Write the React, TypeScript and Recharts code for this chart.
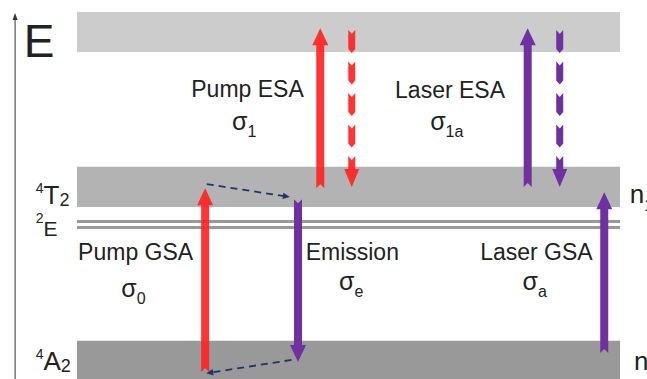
import React from 'react';
import {
  ComposedChart,
  XAxis,
  YAxis,
  ReferenceArea,
  ReferenceLine,
  ReferenceDot,
} from 'recharts';

const COLORS = {
  pump: '#ff2424',
  laser: '#7030a0',
  relax: '#1f3468',
  ink: '#222222',
  doublet: '#999999',
  bands: ['#cccccc', '#b3b3b3', '#999999'],
};
const FONT = '"Liberation Sans", Arial, sans-serif';

// Energy levels, arbitrary units (0 = bottom of the ground band)
const bandNames = ['excited', '4T2', '4A2'];
const bandLow = [89.1, 46.9, 0];
const bandHigh = [100, 57.8, 10.4];
const doubletLevels = [42.9, 41.3]; // 2E, drawn as two thin lines

// Optical transitions: horizontal slot (0..100) and start/end energies
const transitionNames = ['Pump GSA', 'Pump ESA', 'Pump ESA relax', 'Emission', 'Laser ESA', 'Laser ESA relax', 'Laser GSA'];
const transitionBeam = ['pump', 'pump', 'pump', 'laser', 'laser', 'laser', 'laser'];
const transitionKind = ['absorb', 'absorb', 'relax', 'emit', 'absorb', 'relax', 'absorb'];
const transitionX = [23.6, 44.8, 50.6, 40.7, 83.0, 88.9, 97.1];
const transitionFrom = [1.9, 52.0, 95.1, 49.0, 52.3, 95.1, 7.1];
const transitionTo = [52.0, 95.6, 52.3, 4.6, 95.6, 52.3, 50.9];

// Non-radiative relaxation inside the bands
const relaxFromX = [23.9, 39.5];
const relaxFromE = [53.1, 5.2];
const relaxToX = [39.2, 23.8];
const relaxToE = [49.6, 1.55];

// Captions for each process
const captionText = ['Pump ESA', 'Laser ESA', 'Pump GSA', 'Emission', 'Laser GSA'];
const captionX = [31.4, 68.7, 10.8, 50.7, 84.6];
const captionE = [76.8, 76.6, 32.4, 32.4, 32.4];
const sigmaSub = ['1', '1a', '0', 'e', 'a'];
const sigmaX = [30.8, 68.1, 10.4, 50.5, 84.3];
const sigmaE = [67.8, 67.8, 22.3, 24.3, 24.3];

// Term symbols on the left, populations on the right
const termSup = ['4', '2', '4'];
const termMain = ['T', 'E', 'A'];
const termSub = ['2', '', '2'];
const termE = [47.8, 39.0, 2.4];
const popSub = ['1', '0'];
const popX = [101.8, 102.6];
const popE = [47.9, 2.4];

type Pt = [number, number];

function frame(x1: number, y1: number, x2: number, y2: number) {
  const len = Math.hypot(x2 - x1, y2 - y1);
  const ux = (x2 - x1) / len;
  const uy = (y2 - y1) / len;
  const p = (a: number, c: number): Pt => [x1 + ux * a - uy * c, y1 + uy * a + ux * c];
  return { len, p };
}

const poly = (pts: Pt[]) => pts.map((q) => q.join(',')).join(' ');

function BeamArrow(props: any) {
  const { x1, y1, x2, y2, beam, kind } = props;
  if ([x1, y1, x2, y2].some((v) => v == null || isNaN(v))) return null;
  const { len, p } = frame(x1, y1, x2, y2);
  const color = COLORS[beam as 'pump' | 'laser'];
  const op = beam === 'pump' ? 0.92 : 1;
  if (kind === 'relax') {
    const sh = 3.5;
    const hh = 7.5;
    const hl = 18;
    const notch = 4;
    const segs: React.ReactNode[] = [];
    for (let s = 0; s < len - hl; s += 31.5) {
      const e = Math.min(s + 23, len - hl + 1);
      const tip = e >= len - hl ? 0 : 4;
      segs.push(
        <polygon
          key={s}
          points={poly([p(s, -sh), p(s + notch, 0), p(s, sh), p(e - tip, sh), p(e, 0), p(e - tip, -sh)])}
          fill={color}
          fillOpacity={op}
        />,
      );
    }
    return (
      <g>
        {segs}
        <polygon points={poly([p(len, 0), p(len - hl, hh), p(len - hl, -hh)])} fill={color} fillOpacity={op} />
      </g>
    );
  }
  const sh = 4;
  const hh = 8;
  const hl = 17;
  const notch = 4;
  return (
    <polygon
      points={poly([
        p(len, 0),
        p(len - hl, hh),
        p(len - hl, sh),
        p(0, sh),
        p(notch, 0),
        p(0, -sh),
        p(len - hl, -sh),
        p(len - hl, -hh),
      ])}
      fill={color}
      fillOpacity={op}
    />
  );
}

function RelaxArrow(props: any) {
  const { x1, y1, x2, y2 } = props;
  if ([x1, y1, x2, y2].some((v) => v == null || isNaN(v))) return null;
  const { len, p } = frame(x1, y1, x2, y2);
  const [ex, ey] = p(len - 6, 0);
  return (
    <g>
      <line x1={x1} y1={y1} x2={ex} y2={ey} stroke={COLORS.relax} strokeWidth={1.8} strokeDasharray="7 5" />
      <polygon points={poly([p(len, 0), p(len - 7, 3.2), p(len - 7, -3.2)])} fill={COLORS.relax} />
    </g>
  );
}

function EnergyAxis(props: any) {
  const { x1, y1, x2, y2 } = props;
  return (
    <g>
      <line x1={x1} y1={y1} x2={x2} y2={y2 + 4} stroke="#333" strokeWidth={1} />
      <polygon points={poly([[x2, y2], [x2 + 2.5, y2 + 7], [x2 - 2.5, y2 + 7]])} fill="#333" />
    </g>
  );
}

export default function App() {
  return (
    <div style={{ width: 647, height: 379, background: '#fff' }}>
      <style>{'body{margin:0}'}</style>
      <ComposedChart width={647} height={379} margin={{ top: 12, right: 27, bottom: 0, left: 77 }}>
        <XAxis type="number" dataKey="x" domain={[0, 100]} hide allowDataOverflow />
        <YAxis type="number" dataKey="e" domain={[0, 100]} hide allowDataOverflow />

        {bandNames.map((name, i) => (
          <ReferenceArea
            key={name}
            x1={0}
            x2={100}
            y1={bandLow[i]}
            y2={bandHigh[i]}
            fill={COLORS.bands[i]}
            fillOpacity={1}
            stroke="none"
          />
        ))}
        {doubletLevels.map((e) => (
          <ReferenceLine key={e} y={e} stroke={COLORS.doublet} strokeWidth={3} />
        ))}

        <ReferenceLine
          segment={[{ x: -11.4, y: 0 }, { x: -11.4, y: 99.7 }]}
          ifOverflow="visible"
          shape={(p: any) => <EnergyAxis {...p} />}
        />

        {transitionNames.map((name, i) => (
          <ReferenceLine
            key={name}
            segment={[
              { x: transitionX[i], y: transitionFrom[i] },
              { x: transitionX[i], y: transitionTo[i] },
            ]}
            ifOverflow="visible"
            shape={(p: any) => <BeamArrow {...p} beam={transitionBeam[i]} kind={transitionKind[i]} />}
          />
        ))}

        {relaxFromX.map((x, i) => (
          <ReferenceLine
            key={`relax-${i}`}
            segment={[
              { x, y: relaxFromE[i] },
              { x: relaxToX[i], y: relaxToE[i] },
            ]}
            ifOverflow="visible"
            shape={(p: any) => <RelaxArrow {...p} />}
          />
        ))}

        {captionText.map((t, i) => (
          <ReferenceDot
            key={t}
            x={captionX[i]}
            y={captionE[i]}
            ifOverflow="visible"
            shape={(p: any) => (
              <text x={p.cx} y={p.cy} textAnchor="middle" fontFamily={FONT} fontSize={23} fill={COLORS.ink}>
                {t}
              </text>
            )}
          />
        ))}
        {sigmaSub.map((s, i) => (
          <ReferenceDot
            key={`sigma-${s}`}
            x={sigmaX[i]}
            y={sigmaE[i]}
            ifOverflow="visible"
            shape={(p: any) => (
              <text x={p.cx} y={p.cy} textAnchor="middle" fontFamily={FONT} fill={COLORS.ink}>
                <tspan fontSize={25}>σ</tspan>
                <tspan fontSize={16} dy={7}>
                  {s}
                </tspan>
              </text>
            )}
          />
        ))}

        <ReferenceDot
          x={-9.8}
          y={87.7}
          ifOverflow="visible"
          shape={(p: any) => (
            <text x={p.cx} y={p.cy} fontFamily={FONT} fontSize={46} fill={COLORS.ink}>
              E
            </text>
          )}
        />
        {termMain.map((m, i) => (
          <ReferenceDot
            key={`term-${i}`}
            x={-7.6}
            y={termE[i]}
            ifOverflow="visible"
            shape={(p: any) => (
              <text x={p.cx} y={p.cy} fontFamily={FONT} fill={COLORS.ink}>
                <tspan fontSize={14} dy={m === 'E' ? -13 : -11}>
                  {termSup[i]}
                </tspan>
                <tspan fontSize={m === 'E' ? 21 : 26} dy={m === 'E' ? 13 : 11}>
                  {m}
                </tspan>
                {termSub[i] && (
                  <tspan fontSize={18} dy={2}>
                    {termSub[i]}
                  </tspan>
                )}
              </text>
            )}
          />
        ))}
        {popSub.map((s, i) => (
          <ReferenceDot
            key={`pop-${s}`}
            x={popX[i]}
            y={popE[i]}
            ifOverflow="visible"
            shape={(p: any) => (
              <text x={p.cx} y={p.cy} fontFamily={FONT} fill={COLORS.ink}>
                <tspan fontSize={26}>n</tspan>
                <tspan fontSize={16} dy={8}>
                  {s}
                </tspan>
              </text>
            )}
          />
        ))}
      </ComposedChart>
    </div>
  );
}
